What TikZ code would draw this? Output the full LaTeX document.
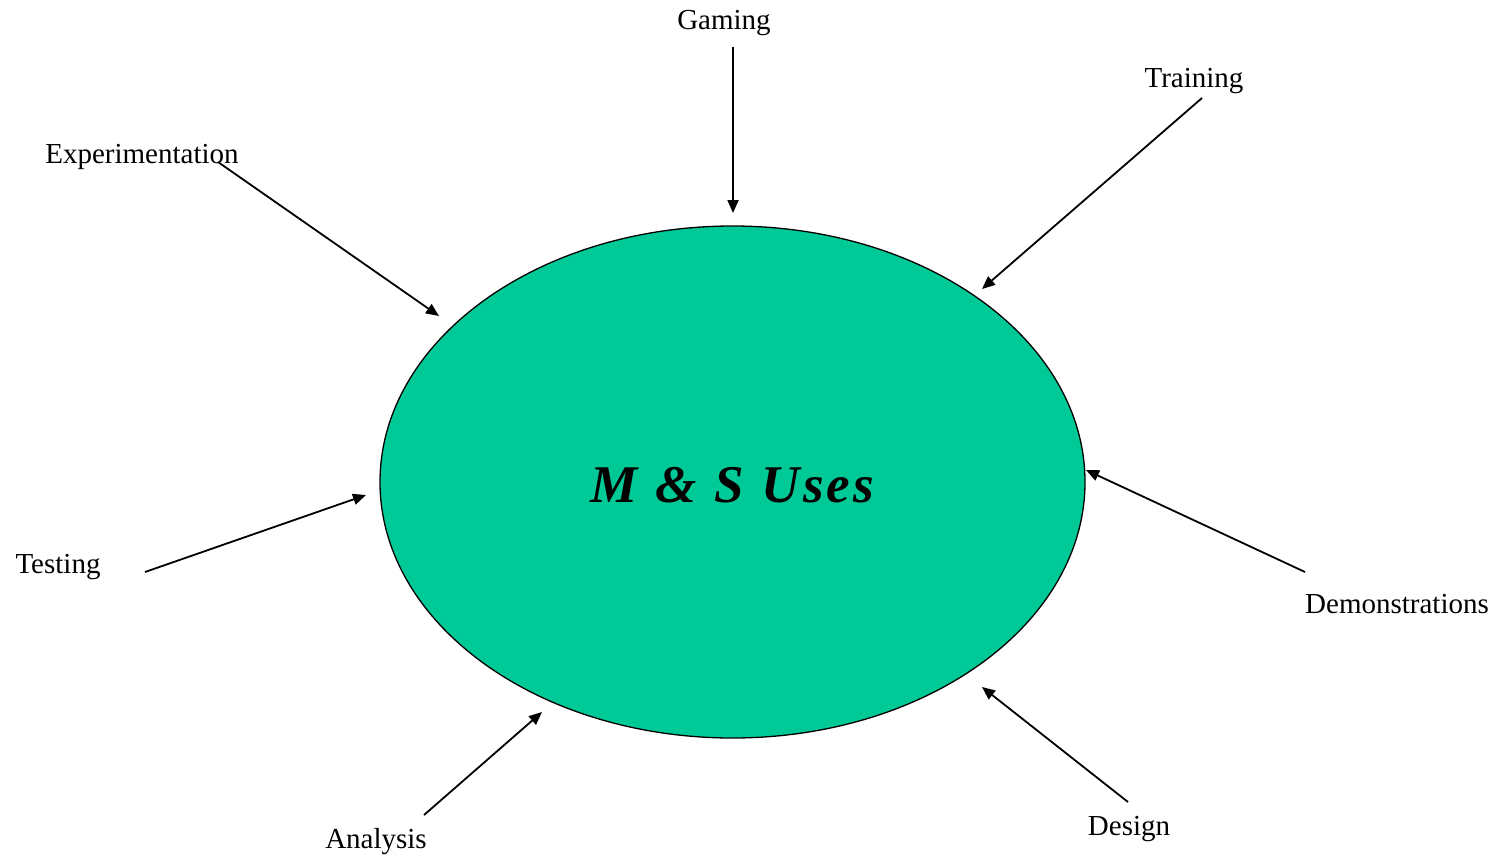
\documentclass[tikz,border=0pt]{standalone}
\usepackage{fontspec}
\setmainfont{Liberation Serif}
\usetikzlibrary{arrows.meta, shapes.geometric}
\definecolor{usegreen}{RGB}{0,201,152}

\begin{document}
\begin{tikzpicture}[
        x=1pt, y=-1pt,
        hub/.style={ellipse, draw=black, line width=1.3pt, fill=usegreen, minimum width=705pt, minimum height=512pt, inner sep=0pt},
        uselabel/.style={font=\fontsize{29}{34}\selectfont, inner sep=0pt},
        arrow/.style={-{Triangle[length=13pt, width=11pt]}, line width=1.8pt}
    ]
    \useasboundingbox (0,0) rectangle (1495,854);

    % centre
    \node (hub) [hub] at (732.5,482) {};
    \node (title) at (732,485) {\fontsize{53}{60}\selectfont\bfseries\itshape M\kern18pt\&\kern18pt S\kern18pt U\kern3pt s\kern3pt e\kern3pt s};

    % labels
    \node (gaming) [uselabel] at (724,23) {Gaming};
    \node (training) [uselabel] at (1194,81) {Training};
    \node (experiment) [uselabel] at (142,157) {Experimentation};
    \node (testing) [uselabel] at (58,567) {Testing};
    \node (demo) [uselabel] at (1397,604) {Demonstrations};
    \node (design) [uselabel] at (1129,829) {Design};
    \node (analysis) [uselabel] at (376,842) {Analysis};

    % arrow ends
    \coordinate (gamingT) at (733,47);     \coordinate (gamingH) at (733,213);
    \coordinate (trainingT) at (1202,98);  \coordinate (trainingH) at (982,289);
    \coordinate (experimentT) at (218,162); \coordinate (experimentH) at (439,316);
    \coordinate (testingT) at (145,572);   \coordinate (testingH) at (366,495);
    \coordinate (demoT) at (1305,572);     \coordinate (demoH) at (1086,470);
    \coordinate (designT) at (1128,802);   \coordinate (designH) at (982,687);
    \coordinate (analysisT) at (424,815);  \coordinate (analysisH) at (542,712);

    \foreach \u in {gaming, training, experiment, testing, demo, design, analysis}
        \draw[arrow] (\u T) -- (\u H);
\end{tikzpicture}
\end{document}
